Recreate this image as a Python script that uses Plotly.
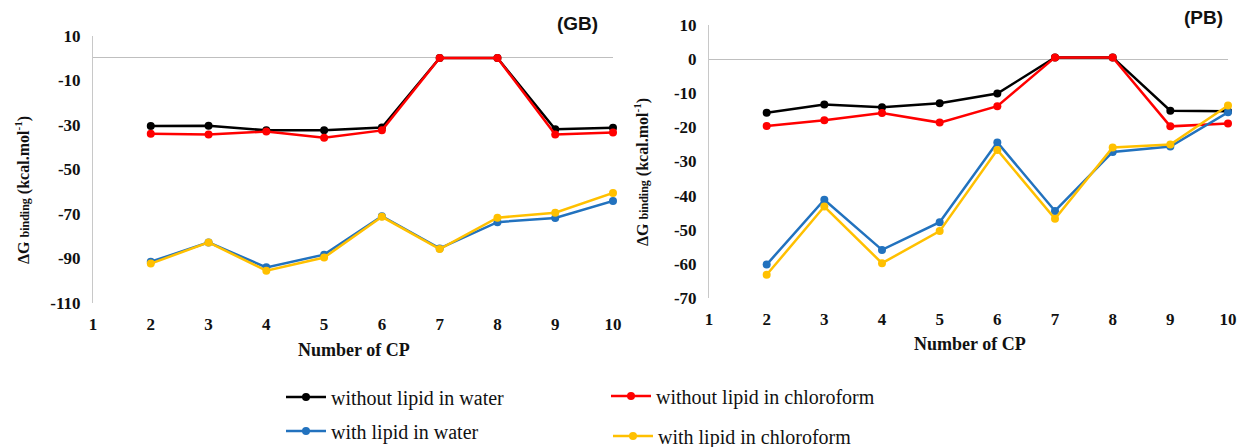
import plotly.graph_objects as go

cp = [2, 3, 4, 5, 6, 7, 8, 9, 10]
x_ticks = [1, 2, 3, 4, 5, 6, 7, 8, 9, 10]
gb_ticks = [-110, -90, -70, -50, -30, -10, 10]
pb_ticks = [-70, -60, -50, -40, -30, -20, -10, 0, 10]

series_names = ["without lipid in water", "without lipid in chloroform",
                "with lipid in water", "with lipid in chloroform"]
series_colors = ["#000000", "#FF0000", "#2272BE", "#FFC000"]

gb_wo_water = [-30.5, -30.4, -32.5, -32.5, -31.2, 0, 0, -32.0, -31.3]
gb_wo_chcl3 = [-34.0, -34.4, -33.0, -35.8, -32.5, 0, 0, -34.3, -33.5]
gb_w_water = [-91.5, -82.8, -94.0, -88.3, -71.0, -85.5, -73.7, -71.8, -64.2]
gb_w_chcl3 = [-92.3, -82.8, -95.5, -89.6, -71.3, -85.8, -71.7, -69.5, -60.6]

pb_wo_water = [-15.7, -13.3, -14.1, -12.9, -10.1, 0.5, 0.5, -15.1, -15.3]
pb_wo_chcl3 = [-19.6, -17.9, -15.8, -18.6, -13.8, 0.5, 0.5, -19.7, -18.9]
pb_w_water = [-60.2, -41.2, -55.9, -47.8, -24.4, -44.5, -27.2, -25.6, -15.6]
pb_w_chcl3 = [-63.2, -43.2, -59.8, -50.4, -26.6, -46.8, -25.9, -25.0, -13.6]

gb = [gb_wo_water, gb_wo_chcl3, gb_w_water, gb_w_chcl3]
pb = [pb_wo_water, pb_wo_chcl3, pb_w_water, pb_w_chcl3]

W, H = 1239, 447
SERIF = "Liberation Serif"

fig = go.Figure()
legend_ids = ["legend", "legend2", "legend3", "legend4"]
for i in range(4):
    fig.add_trace(go.Scatter(
        x=cp, y=gb[i], mode="lines+markers", name=series_names[i],
        line=dict(color=series_colors[i], width=2.5),
        marker=dict(color=series_colors[i], size=8),
        xaxis="x", yaxis="y", cliponaxis=False,
        legend=legend_ids[i], showlegend=True))
for i in range(4):
    fig.add_trace(go.Scatter(
        x=cp, y=pb[i], mode="lines+markers", name=series_names[i],
        line=dict(color=series_colors[i], width=2.5),
        marker=dict(color=series_colors[i], size=8),
        xaxis="x2", yaxis="y2", cliponaxis=False, showlegend=False))

tickfont = dict(family=SERIF, size=17, color="#111111", weight="bold")
axis_common = dict(showgrid=False, zeroline=False, showline=False,
                   ticks="outside", ticklen=6, tickcolor="rgba(0,0,0,0)",
                   tickfont=tickfont, fixedrange=True)


def yaxis_cfg(domain, rng, ticks, anchor):
    return dict(domain=domain, range=rng, tickvals=ticks,
                ticktext=[str(t) for t in ticks], anchor=anchor,
                showgrid=False, zeroline=True, zerolinecolor="#BFBFBF", zerolinewidth=1,
                showline=True, linecolor="#C8C8C8", linewidth=1,
                ticks="outside", ticklen=8, tickcolor="rgba(0,0,0,0)",
                tickfont=tickfont, fixedrange=True)


fig.update_layout(
    width=W, height=H,
    margin=dict(l=0, r=0, t=0, b=0, autoexpand=False),
    paper_bgcolor="white", plot_bgcolor="white",
    xaxis=dict(domain=[93 / W, 613 / W], range=[1, 10], tickvals=x_ticks,
               anchor="y", **axis_common),
    yaxis=yaxis_cfg([1 - 303 / H, 1 - 35.7 / H], [-110, 10], gb_ticks, "x"),
    xaxis2=dict(domain=[709 / W, 1228 / W], range=[1, 10], tickvals=x_ticks,
                anchor="y2", **axis_common),
    yaxis2=yaxis_cfg([1 - 298 / H, 1 - 25 / H], [-70, 10], pb_ticks, "x2"),
)

leg_font = dict(family=SERIF, size=20, color="#111111")
leg_pos = [(281, 397), (606, 396), (281, 431), (608, 436)]
for lid, (lx, ly) in zip(legend_ids, leg_pos):
    fig.update_layout({lid: dict(x=lx / W, y=1 - ly / H, xanchor="left", yanchor="middle",
                                 font=leg_font, bgcolor="rgba(0,0,0,0)", borderwidth=0,
                                 itemwidth=40)})

ytitle = ("<b>ΔG <span style='font-size:12px'>binding</span> "
          "(kcal.mol<sup>-1</sup>)</b>")
lab = dict(xref="paper", yref="paper", showarrow=False, xanchor="center", yanchor="middle")
annotations = [
    dict(text=ytitle, x=22 / W, y=1 - 190 / H, textangle=-90,
         font=dict(family=SERIF, size=16, color="#111111"), **lab),
    dict(text=ytitle, x=641 / W, y=1 - 172 / H, textangle=-90,
         font=dict(family=SERIF, size=16, color="#111111"), **lab),
    dict(text="<b>Number of CP</b>", x=354 / W, y=1 - 350 / H,
         font=dict(family=SERIF, size=18, color="#111111"), **lab),
    dict(text="<b>Number of CP</b>", x=970 / W, y=1 - 344 / H,
         font=dict(family=SERIF, size=18, color="#111111"), **lab),
    dict(text="<b>(GB)</b>", x=577 / W, y=1 - 23 / H,
         font=dict(family="Liberation Sans", size=19, color="#111111"), **lab),
    dict(text="<b>(PB)</b>", x=1203 / W, y=1 - 18 / H,
         font=dict(family="Liberation Sans", size=19, color="#111111"), **lab),
]
fig.update_layout(annotations=annotations)

fig.write_html("out.html")
